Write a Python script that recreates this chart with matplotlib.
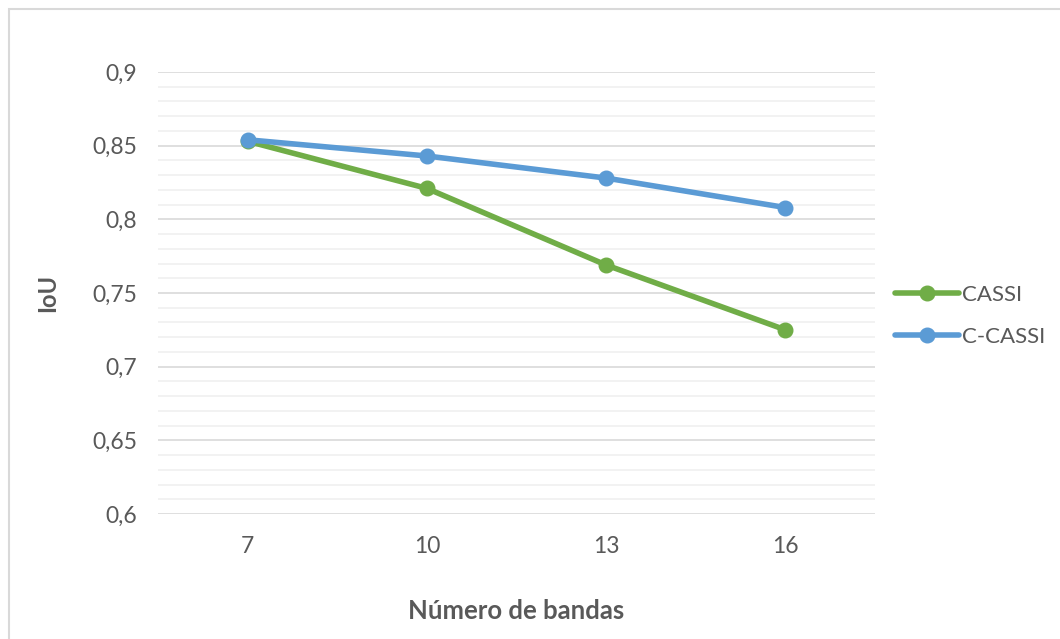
import matplotlib
matplotlib.use('Agg')
import matplotlib.pyplot as plt
from matplotlib.ticker import FuncFormatter, MultipleLocator
from matplotlib.patches import Rectangle

# Datos
bandas = ['7', '10', '13', '16']
cassi = [0.853, 0.821, 0.769, 0.725]
c_cassi = [0.854, 0.843, 0.828, 0.808]

verde = '#70AD47'
azul = '#5B9BD5'
gris_texto = '#595959'

plt.rcParams['font.family'] = ['Lato', 'DejaVu Sans']

fig = plt.figure(figsize=(10.6, 6.39), dpi=100)
ax = fig.add_axes([158 / 1060, 1 - 514 / 639, (875 - 158) / 1060, (514 - 72) / 639])

x = range(len(bandas))
ax.plot(x, cassi, color=verde, lw=4, marker='o', markersize=10.5, label='CASSI',
        solid_capstyle='round', zorder=3)
ax.plot(x, c_cassi, color=azul, lw=4, marker='o', markersize=10.5, label='C-CASSI',
        solid_capstyle='round', zorder=4)

ax.set_xlim(-0.5, len(bandas) - 0.5)
ax.set_ylim(0.6, 0.9)
ax.set_xticks(list(x))
ax.set_xticklabels(bandas)
ax.yaxis.set_major_locator(MultipleLocator(0.05))
ax.yaxis.set_minor_locator(MultipleLocator(0.01))
ax.yaxis.set_major_formatter(FuncFormatter(lambda v, p: ('%g' % round(v, 2)).replace('.', ',')))

ax.grid(which='major', axis='y', color='#d9d9d9', lw=1.2, zorder=0)
ax.grid(which='minor', axis='y', color='#f0f0f0', lw=1.2, zorder=0)
ax.set_axisbelow(True)
for s in ax.spines.values():
    s.set_visible(False)
ax.tick_params(which='both', length=0, labelsize=16.5, colors=gris_texto)
ax.tick_params(axis='y', pad=15)
ax.tick_params(axis='x', pad=16)

ax.set_ylabel('IoU', fontsize=17, fontweight='bold', color=gris_texto, labelpad=24)
ax.set_xlabel('Número de bandas', fontsize=18.5, fontweight='bold', color=gris_texto, labelpad=30)

ax.legend(loc='center left', bbox_to_anchor=(875 / 1060, 1 - 316 / 639),
          bbox_transform=fig.transFigure, frameon=False, fontsize=16,
          handlelength=2.9, handletextpad=0.1, labelspacing=1.0, labelcolor=gris_texto)

# Marco del gráfico
fig.patches.append(Rectangle((8.5 / 1060, -0.1), 1.2, (1 - 8.5 / 639) + 0.1,
                             transform=fig.transFigure, fill=False,
                             edgecolor='#d9d9d9', lw=1.5))

fig.savefig('out.png', dpi=100)
